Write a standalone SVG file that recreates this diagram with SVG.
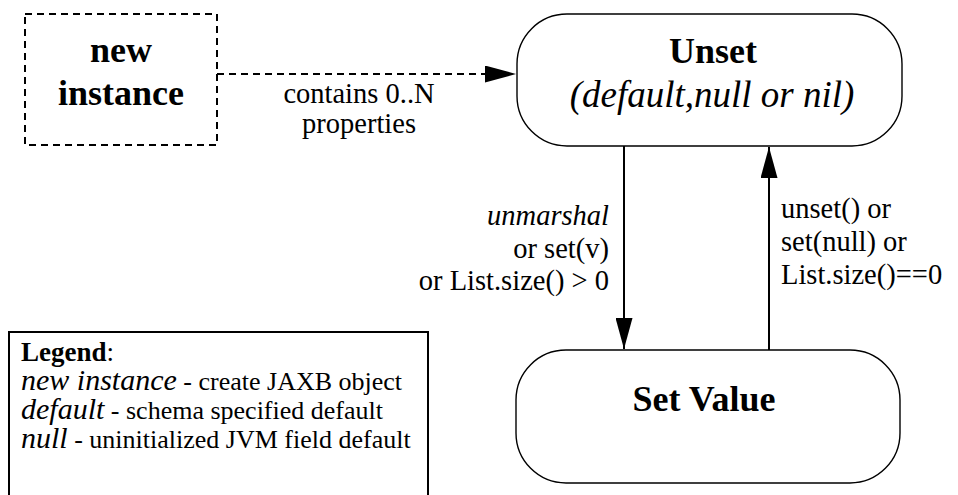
<svg xmlns="http://www.w3.org/2000/svg" width="958" height="495" viewBox="0 0 958 495" font-family="Liberation Serif, DejaVu Serif, serif">
<style>
text{font-family:'Liberation Serif','DejaVu Serif',serif;fill:#000}
.b{font-weight:bold;font-size:36px}
.i{font-style:italic}
.lbl{font-size:28.5px}
.node{fill:#fff;stroke:#000;stroke-width:1.4}
.edge{stroke:#000;stroke-width:2;fill:none}
</style>
<defs>
<marker id="ah" markerWidth="31" markerHeight="17" refX="31" refY="8.5" orient="auto" markerUnits="userSpaceOnUse">
<path d="M0,0 L31,8.5 L0,17 Z" fill="#000"/>
</marker>
</defs>
<rect width="958" height="495" fill="#fff"/>
<g id="new-instance">
<rect x="25" y="14" width="192" height="131" fill="none" stroke="#000" stroke-width="2" stroke-dasharray="7,5"/>
<text class="b" x="121" y="62" text-anchor="middle">new</text>
<text class="b" x="121" y="105" text-anchor="middle">instance</text>
</g>
<g id="unset">
<rect class="node" x="517" y="14" width="385" height="132" rx="50" ry="50"/>
<text class="b" x="713" y="63" text-anchor="middle">Unset</text>
<text class="i" x="712" y="107" text-anchor="middle" font-size="37">(default,null or nil)</text>
</g>
<g id="set-value">
<rect class="node" x="516" y="350" width="384" height="133" rx="50" ry="50"/>
<text class="b" x="704" y="411" text-anchor="middle">Set Value</text>
</g>
<g id="legend">
<rect x="9" y="332" width="419" height="180" fill="#fff" stroke="#000" stroke-width="2"/>
<text x="21" y="361" font-size="27"><tspan font-weight="bold">Legend</tspan>:</text>
<text x="21" y="390"><tspan class="i" font-size="30">new instance</tspan><tspan font-size="26"> - create JAXB object</tspan></text>
<text x="21" y="419"><tspan class="i" font-size="30">default</tspan><tspan font-size="26"> - schema specified default</tspan></text>
<text x="21" y="448"><tspan class="i" font-size="30">null</tspan><tspan font-size="26"> - uninitialized JVM field default</tspan></text>
</g>
<g id="connectors">
<line class="edge" x1="217" y1="74" x2="516" y2="74" stroke-dasharray="7,5" marker-end="url(#ah)"/>
<line class="edge" x1="624" y1="146" x2="624" y2="349" marker-end="url(#ah)"/>
<line class="edge" x1="769" y1="350" x2="769" y2="147" marker-end="url(#ah)"/>
<text class="lbl" x="359" y="103" text-anchor="middle">contains 0..N</text>
<text class="lbl" x="359" y="133" text-anchor="middle">properties</text>
<text class="lbl i" x="609" y="225" text-anchor="end">unmarshal</text>
<text class="lbl" x="609" y="258" text-anchor="end">or set(v)</text>
<text class="lbl" x="609" y="290" text-anchor="end">or List.size() &gt; 0</text>
<text class="lbl" x="781" y="218">unset() or</text>
<text class="lbl" x="781" y="251">set(null) or</text>
<text class="lbl" x="781" y="284">List.size()==0</text>
</g>
</svg>
